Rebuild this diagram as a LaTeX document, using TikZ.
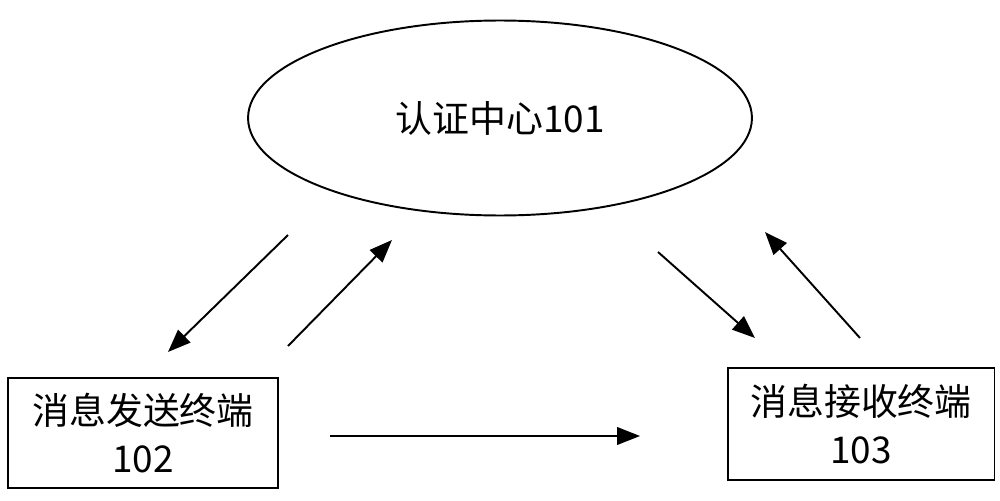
\documentclass[tikz,border=0pt]{standalone}
\usepackage{fontspec}
\setmainfont{Liberation Sans}
\newfontfamily\cjk{Noto Sans CJK SC}
\usetikzlibrary{arrows.meta,shapes.geometric}

\begin{document}
\begin{tikzpicture}[x=0.02cm, y=-0.02cm, >={Triangle[length=13pt,width=10pt]},
    line width=1.1pt,
    term/.style={draw, rectangle, align=center, inner sep=0pt, font=\cjk\fontsize{21}{27}\selectfont},
    center/.style={draw, ellipse, font=\cjk\fontsize{21}{27}\selectfont}]
    \useasboundingbox (0,0) rectangle (1000,500);
    % Nodes
    \node [center, minimum width=10.08cm, minimum height=3.9cm] (c101) at (500,118) {认证中心101};
    \node [term, minimum width=5.4cm, minimum height=2.2cm]  (t102) at (143,433) {消息发送终端\\102};
    \node [term, minimum width=5.34cm, minimum height=2.24cm] (t103) at (861,424) {消息接收终端\\103};

    % Arrow ends
    \coordinate (a1) at (288,235); \coordinate (b1) at (168,352);
    \coordinate (a2) at (288,346); \coordinate (b2) at (392,240);
    \coordinate (a3) at (658,252); \coordinate (b3) at (755,338);
    \coordinate (a4) at (860,338); \coordinate (b4) at (765,232);
    \coordinate (a5) at (330,436); \coordinate (b5) at (640,436);

    % Paths
    \foreach \i in {1,...,5}
        \draw [->] (a\i) -- (b\i);
\end{tikzpicture}
\end{document}
